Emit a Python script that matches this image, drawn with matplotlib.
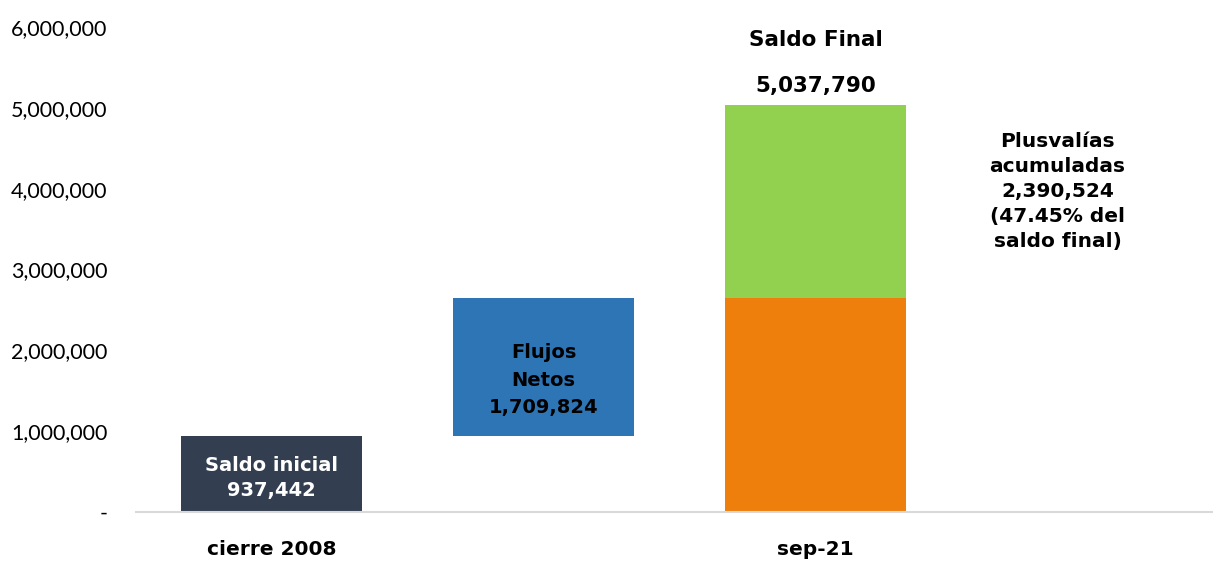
import numpy as np
import matplotlib.pyplot as plt

# datos
categorias = ['cierre 2008', '', 'sep-21', '']
saldo_inicial = 937442
flujos_netos = 1709824
plusvalias = 2390524
saldo_final = 5037790
yticks = [0, 1000000, 2000000, 3000000, 4000000, 5000000, 6000000]

c_ini = '#333F50'
c_flu = '#2E75B6'
c_nar = '#EF7F0C'
c_ver = '#92D050'

plt.rcParams['font.family'] = ['DejaVu Sans']

fig = plt.figure(figsize=(12.13, 5.61), dpi=100)
ax = fig.add_axes([135.5 / 1213, 1 - 512 / 561, 1088 / 1213, 485 / 561])

x = np.arange(len(categorias))
w = 0.665
ax.bar(x[0], saldo_inicial, w, color=c_ini)
ax.bar(x[1], flujos_netos, w, bottom=saldo_inicial, color=c_flu)
ax.bar(x[2], saldo_inicial + flujos_netos, w, color=c_nar)
ax.bar(x[2], plusvalias, w, bottom=saldo_inicial + flujos_netos, color=c_ver)

ax.set_xlim(-0.5, 3.5)
ax.set_ylim(0, 6000000)
ax.set_yticks(yticks)
ax.set_yticklabels(['-' if v == 0 else f'{v:,}' for v in yticks],
                   fontsize=15.5, family=['Lato', 'DejaVu Sans'])
ax.set_xticks(x)
ax.set_xticklabels(categorias, fontsize=14.5, fontweight='bold')
ax.tick_params(length=0)
ax.tick_params(axis='y', pad=20)
ax.tick_params(axis='x', pad=20)
for s in ['top', 'right', 'left']:
    ax.spines[s].set_visible(False)
ax.spines['bottom'].set_color('#D9D9D9')
ax.spines['bottom'].set_linewidth(1.5)

ax.text(x[0], 420000, f'Saldo inicial\n{saldo_inicial:,}', color='white',
        ha='center', va='center', fontsize=14, fontweight='bold', linespacing=1.35)
ax.text(x[1], 1630000, f'Flujos\nNetos\n{flujos_netos:,}', color='black',
        ha='center', va='center', fontsize=14, fontweight='bold', linespacing=1.55)
ax.text(x[2], 5840000, 'Saldo Final', ha='center', va='center',
        fontsize=15.5, fontweight='bold')
ax.text(x[2], 5270000, f'{saldo_final:,}', ha='center', va='center',
        fontsize=15.5, fontweight='bold')
pct = plusvalias / saldo_final * 100
ax.text(2.89, 3960000, f'Plusvalías\nacumuladas\n{plusvalias:,}\n({pct:.2f}% del\nsaldo final)',
        ha='center', va='center', fontsize=14.5, fontweight='bold', linespacing=1.4)

fig.savefig('out.png', dpi=100)
